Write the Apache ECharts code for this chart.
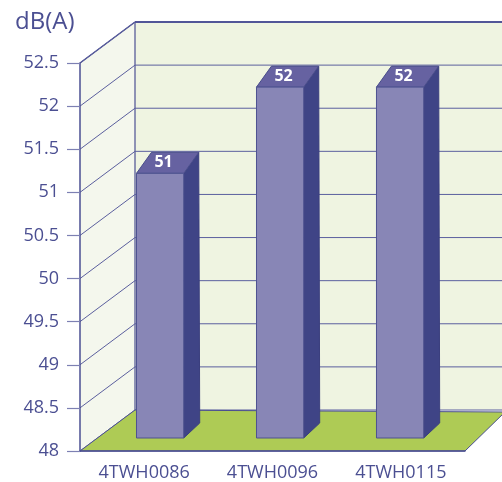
<!DOCTYPE html>
<html>
<head>
<meta charset="utf-8">
<script src="https://cdn.jsdelivr.net/npm/echarts@6/dist/echarts.min.js"></script>
<style>
  html, body { margin: 0; padding: 0; background: #fff; }
  #chart { width: 502px; height: 482px; }
</style>
</head>
<body>
<div id="chart"></div>
<script>
// data
const categories = ['4TWH0086', '4TWH0096', '4TWH0115'];
const values = [51, 52, 52];
const yTicks = [48, 48.5, 49, 49.5, 50, 50.5, 51, 51.5, 52, 52.5];

const AXIS = '#4b4f92';
const LINE = '#5b5f9e';
const DEPTH = [55, -41]; // offset of back wall

const chart = echarts.init(document.getElementById('chart'));

// side wall + back wall
function renderWalls(params, api) {
  const cs = params.coordSys;
  const x0 = cs.x;
  const yTop = api.coord([0, 52.5])[1];
  const yBot = api.coord([0, 48])[1];
  return {
    type: 'group',
    children: [
      {
        type: 'rect',
        shape: { x: x0 + DEPTH[0], y: yTop + DEPTH[1], width: 600, height: yBot - yTop },
        style: { fill: '#eff4e1' }
      },
      {
        type: 'polygon',
        shape: { points: [[x0, yBot], [x0, yTop], [x0 + DEPTH[0], yTop + DEPTH[1]], [x0 + DEPTH[0], yBot + DEPTH[1]]] },
        style: { fill: '#f4f7ed' }
      },
      {
        type: 'line',
        shape: { x1: x0 + DEPTH[0], y1: yTop + DEPTH[1], x2: x0 + DEPTH[0], y2: yBot + DEPTH[1] },
        style: { stroke: AXIS, lineWidth: 1.2 }
      },
      {
        type: 'line',
        shape: { x1: x0, y1: yTop, x2: x0 + DEPTH[0], y2: yTop + DEPTH[1] },
        style: { stroke: AXIS, lineWidth: 1.5 }
      },
      {
        type: 'line',
        shape: { x1: x0 + DEPTH[0], y1: yTop + DEPTH[1], x2: 520, y2: yTop + DEPTH[1] },
        style: { stroke: AXIS, lineWidth: 1.8 }
      }
    ]
  };
}

// grid lines: diagonal on side wall + horizontal on back wall
function renderGridLine(params, api) {
  const cs = params.coordSys;
  const x0 = cs.x;
  const y = api.coord([0, api.value(1)])[1];
  return {
    type: 'group',
    children: [
      {
        type: 'line',
        shape: { x1: x0, y1: y, x2: x0 + DEPTH[0], y2: y + DEPTH[1] },
        style: { stroke: LINE, lineWidth: 1 }
      },
      {
        type: 'line',
        shape: { x1: x0 + DEPTH[0], y1: y + DEPTH[1], x2: 520, y2: y + DEPTH[1] },
        style: { stroke: LINE, lineWidth: 1 }
      }
    ]
  };
}

function renderFloor(params, api) {
  const cs = params.coordSys;
  const x0 = cs.x, x1 = cs.x + cs.width;
  const y = api.coord([0, 48])[1];
  return {
    type: 'polygon',
    shape: { points: [[x0, y], [x1, y], [x1 + 40, y - 39], [x0 + DEPTH[0], y + DEPTH[1]]] },
    style: { fill: '#aecb55', stroke: AXIS, lineWidth: 1 }
  };
}

// bars sit a little deeper than the front plane, so spacing shrinks slightly
function renderBar(params, api) {
  const cs = params.coordSys;
  const mid = cs.x + cs.width / 2;
  const c = api.coord([api.value(0), api.value(1)]);
  const base = api.coord([api.value(0), 48]);
  const band = api.size([1, 0])[0];
  const w = band * 0.368;
  const cx = mid + (c[0] - mid) * 0.935 + 7.6;
  const left = cx - w / 2;
  const right = left + w;
  const top = c[1] - 19;
  const bot = base[1] - 13;
  const tdx = 15, tdy = -21, bdx = 16, bdy = -15;
  return {
    type: 'group',
    children: [
      {
        type: 'polygon',
        shape: { points: [[right, top], [right + tdx, top + tdy], [right + bdx, bot + bdy], [right, bot]] },
        style: { fill: '#3f4486', stroke: '#3b3f7e', lineWidth: 1 }
      },
      {
        type: 'polygon',
        shape: { points: [[left, top], [left + tdx, top + tdy], [right + tdx, top + tdy], [right, top]] },
        style: { fill: '#6662a1', stroke: '#4b4f8c', lineWidth: 1 }
      },
      {
        type: 'rect',
        shape: { x: left, y: top, width: w, height: bot - top },
        style: { fill: '#8886b6', stroke: '#4e5290', lineWidth: 1 }
      },
      {
        type: 'text',
        style: {
          text: String(api.value(1)),
          x: (left + right) / 2 + tdx / 2 - 4,
          y: top + tdy / 2,
          align: 'center',
          verticalAlign: 'middle',
          fill: '#ffffff',
          font: 'bold 16px "Open Sans", sans-serif'
        }
      }
    ]
  };
}

const option = {
  animation: false,
  textStyle: { fontFamily: '"Open Sans", sans-serif' },
  title: {
    text: 'dB(A)',
    left: 10,
    top: 5,
    textStyle: { color: AXIS, fontSize: 24, fontWeight: 'normal', fontFamily: '"Open Sans", sans-serif' }
  },
  grid: { left: 80, right: 37, top: 63, bottom: 31, outerBoundsMode: 'none' },
  xAxis: {
    type: 'category',
    data: categories,
    z: 10,
    axisLine: { lineStyle: { color: AXIS, width: 1.5 } },
    axisTick: { length: 12, lineStyle: { color: '#7d80b3', width: 1.2 } },
    axisLabel: { color: AXIS, fontSize: 18, margin: 13 },
    splitLine: { show: false }
  },
  yAxis: {
    type: 'value',
    min: 48,
    max: 52.5,
    interval: 0.5,
    z: 10,
    axisLine: { show: true, lineStyle: { color: AXIS, width: 1.5 } },
    axisTick: { show: true, length: 13, lineStyle: { color: '#7d80b3', width: 1.2 } },
    axisLabel: { color: AXIS, fontSize: 18, margin: 21 },
    splitLine: { show: false }
  },
  series: [
    { type: 'custom', name: 'walls', z: 1, renderItem: renderWalls, data: [[0, 48]], silent: true },
    { type: 'custom', name: 'lines', z: 2, renderItem: renderGridLine, data: yTicks.map(v => [0, v]), silent: true },
    { type: 'custom', name: 'floor', z: 3, renderItem: renderFloor, data: [[0, 48]], silent: true },
    { type: 'custom', name: 'dB(A)', z: 4, renderItem: renderBar, data: values.map((v, i) => [i, v]) }
  ]
};

chart.setOption(option);
</script>
</body>
</html>
